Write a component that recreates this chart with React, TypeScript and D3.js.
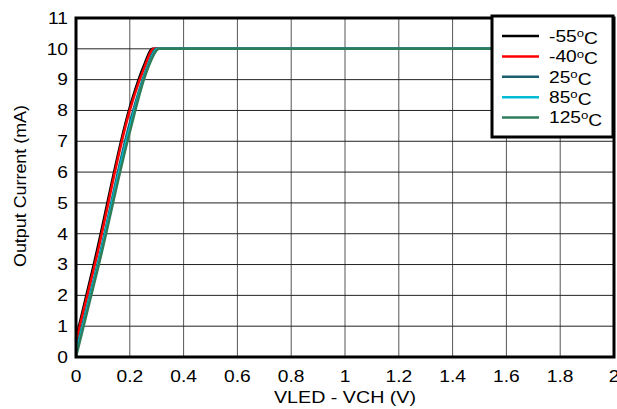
import React from "react";
import * as d3 from "d3";

const xTicks = [0, 0.2, 0.4, 0.6, 0.8, 1, 1.2, 1.4, 1.6, 1.8, 2];
const yTicks = [0, 1, 2, 3, 4, 5, 6, 7, 8, 9, 10, 11];

const seriesNames = ["-55", "-40", "25", "85", "125"];
const seriesColors = ["#000000", "#ff0000", "#1b5e6e", "#00bcd4", "#2e7d5b"];

const vM55 = [[0, 0.6], [0.07, 3.15], [0.2, 8.1], [0.25, 9.4], [0.285, 10], [2, 10]];
const vM40 = [[0, 0.5], [0.07, 3.0], [0.2, 8.0], [0.25, 9.3], [0.29, 10], [2, 10]];
const v25 = [[0, 0.2], [0.08, 3.0], [0.2, 7.6], [0.26, 9.3], [0.3, 10], [2, 10]];
const v85 = [[0, 0.1], [0.082, 3.0], [0.2, 7.45], [0.26, 9.25], [0.305, 10], [2, 10]];
const v125 = [[0, 0.0], [0.085, 3.0], [0.2, 7.3], [0.26, 9.2], [0.31, 10], [2, 10]];
const seriesData = [vM55, vM40, v25, v85, v125];

const SX = 1.2;

function T(props: { x: number; y: number; anchor?: string; size?: number; children: any }) {
  const { x, y, anchor = "start", size = 16, children } = props;
  return (
    <g transform={`translate(${x},${y}) scale(${SX},1)`}>
      <text x={0} y={0} textAnchor={anchor} fontSize={size} fill="#000">{children}</text>
    </g>
  );
}

export default function App() {
  const W = 617, H = 409;
  const left = 76, right = 614, top = 18, bottom = 357;
  const x = d3.scaleLinear().domain([0, 2]).range([left, right]);
  const y = d3.scaleLinear().domain([0, 11]).range([bottom, top]);
  const line = d3.line<number[]>().x(d => x(d[0])).y(d => y(d[1])).curve(d3.curveMonotoneX);
  const font = "Liberation Sans, Arial, sans-serif";
  const legX = 492, legY = 16, legW = 121, legH = 121;
  return (
    <svg width={W} height={H} style={{ position: "absolute", left: 0, top: 0, background: "#fff" }} fontFamily={font}>
      {xTicks.slice(1, -1).map(t => (
        <line key={"vx" + t} x1={x(t)} x2={x(t)} y1={top} y2={bottom} stroke="#555" strokeWidth={1} />
      ))}
      {yTicks.slice(1, -1).map(t => (
        <line key={"hy" + t} x1={left} x2={right} y1={y(t)} y2={y(t)} stroke="#222" strokeWidth={1} />
      ))}
      {seriesData.map((d, i) => (
        <path key={"s" + i} d={line(d) || ""} fill="none" stroke={seriesColors[i]} strokeWidth={2.5} />
      ))}
      <rect x={left} y={top} width={right - left} height={bottom - top} fill="none" stroke="#000" strokeWidth={3} />
      {yTicks.map(t => (
        <T key={"yl" + t} x={left - 8} y={y(t) + 5.8} anchor="end">{t}</T>
      ))}
      {xTicks.map(t => (
        <T key={"xl" + t} x={x(t)} y={bottom + 25} anchor="middle">{t}</T>
      ))}
      <text x={345} y={403} textAnchor="middle" fontSize={17} textLength={142} lengthAdjust="spacingAndGlyphs">VLED - VCH (V)</text>
      <text transform={`translate(26,186) rotate(-90)`} textAnchor="middle" fontSize={17} textLength={162} lengthAdjust="spacingAndGlyphs">Output Current (mA)</text>
      <rect x={legX} y={legY} width={legW} height={legH} fill="#fff" stroke="#000" strokeWidth={3} />
      {seriesNames.map((n, i) => {
        const yy = legY + 20 + i * 20.4;
        return (
          <g key={"lg" + i}>
            <line x1={502} x2={539} y1={yy} y2={yy} stroke={seriesColors[i]} strokeWidth={2.5} />
            <g transform={`translate(549,${yy + 5.8}) scale(${SX},1)`}>
              <text x={0} y={0} fontSize={16}>
                {n}
                <tspan dy="-0.42em" fontSize={11}>o</tspan>
                <tspan dy="0.42em">C</tspan>
              </text>
            </g>
          </g>
        );
      })}
    </svg>
  );
}
